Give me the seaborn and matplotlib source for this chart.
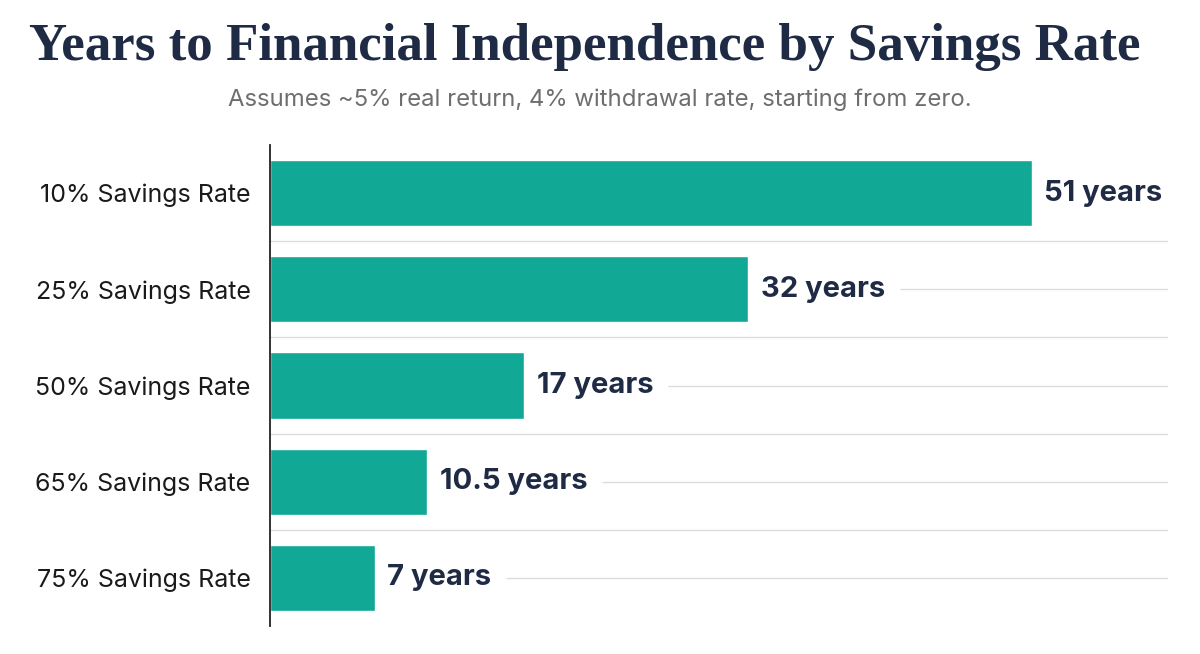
import matplotlib
matplotlib.use("Agg")
import matplotlib.pyplot as plt
import seaborn as sns
import pandas as pd

categories = ["10% Savings Rate", "25% Savings Rate", "50% Savings Rate",
              "65% Savings Rate", "75% Savings Rate"]
years = [51, 32, 17, 10.5, 7]
value_labels = ["51 years", "32 years", "17 years", "10.5 years", "7 years"]

title = "Years to Financial Independence by Savings Rate"
subtitle = "Assumes ~5% real return, 4% withdrawal rate, starting from zero."

df = pd.DataFrame({"category": categories, "years": years})

sns.set_theme(style="white")
plt.rcParams['font.family'] = ['Inter', 'DejaVu Sans']

fig = plt.figure(figsize=(12, 6.54), dpi=100)
ax = fig.add_axes([0.225, 0.0428, 0.748, 0.7355])

navy = "#1f2b44"
teal = "#12a896"
grid_c = "#dcdcdc"

n = len(categories)
xmax = 60.1
ax.set_xlim(0, xmax)
ax.set_ylim(n - 0.5, -0.5)

# boundary gridlines
for i in range(n - 1):
    ax.axhline(i + 0.5, color=grid_c, lw=1.0, zorder=0)

sns.barplot(data=df, x="years", y="category", orient="h", color=teal,
            width=0.69, ax=ax, saturation=1, zorder=2)
ax.set_xlim(0, xmax)
ax.set_ylim(n - 0.5, -0.5)

texts = []
for i, (v, lab) in enumerate(zip(years, value_labels)):
    t = ax.text(v + 0.85, i, lab, va="center", ha="left", fontsize=21,
                fontweight="bold", color=navy, zorder=3)
    texts.append(t)

fig.canvas.draw()
renderer = fig.canvas.get_renderer()
inv = ax.transData.inverted()
for i, t in enumerate(texts):
    bb = t.get_window_extent(renderer)
    x_end = inv.transform((bb.x1 + 15, 0))[0]
    if x_end < xmax:
        ax.hlines(i, x_end, xmax, color=grid_c, lw=1.0, zorder=0)

ax.set_xlabel("")
ax.set_ylabel("")
ax.set_xticks([])
ax.tick_params(axis="y", length=0, pad=14, labelsize=18, labelcolor="#1a1a1a")
for s in ["top", "right", "bottom"]:
    ax.spines[s].set_visible(False)
ax.spines["left"].set_color("#222222")
ax.spines["left"].set_linewidth(1.3)

fig.text(0.4875, 0.928, title, ha="center", va="center", fontsize=38.2,
         fontweight="bold", color=navy, family=["Liberation Serif", "DejaVu Serif"])
fig.text(0.5, 0.848, subtitle, ha="center", va="center", fontsize=17.2,
         color="#6e6e6e")

fig.savefig("out.png", dpi=100)
